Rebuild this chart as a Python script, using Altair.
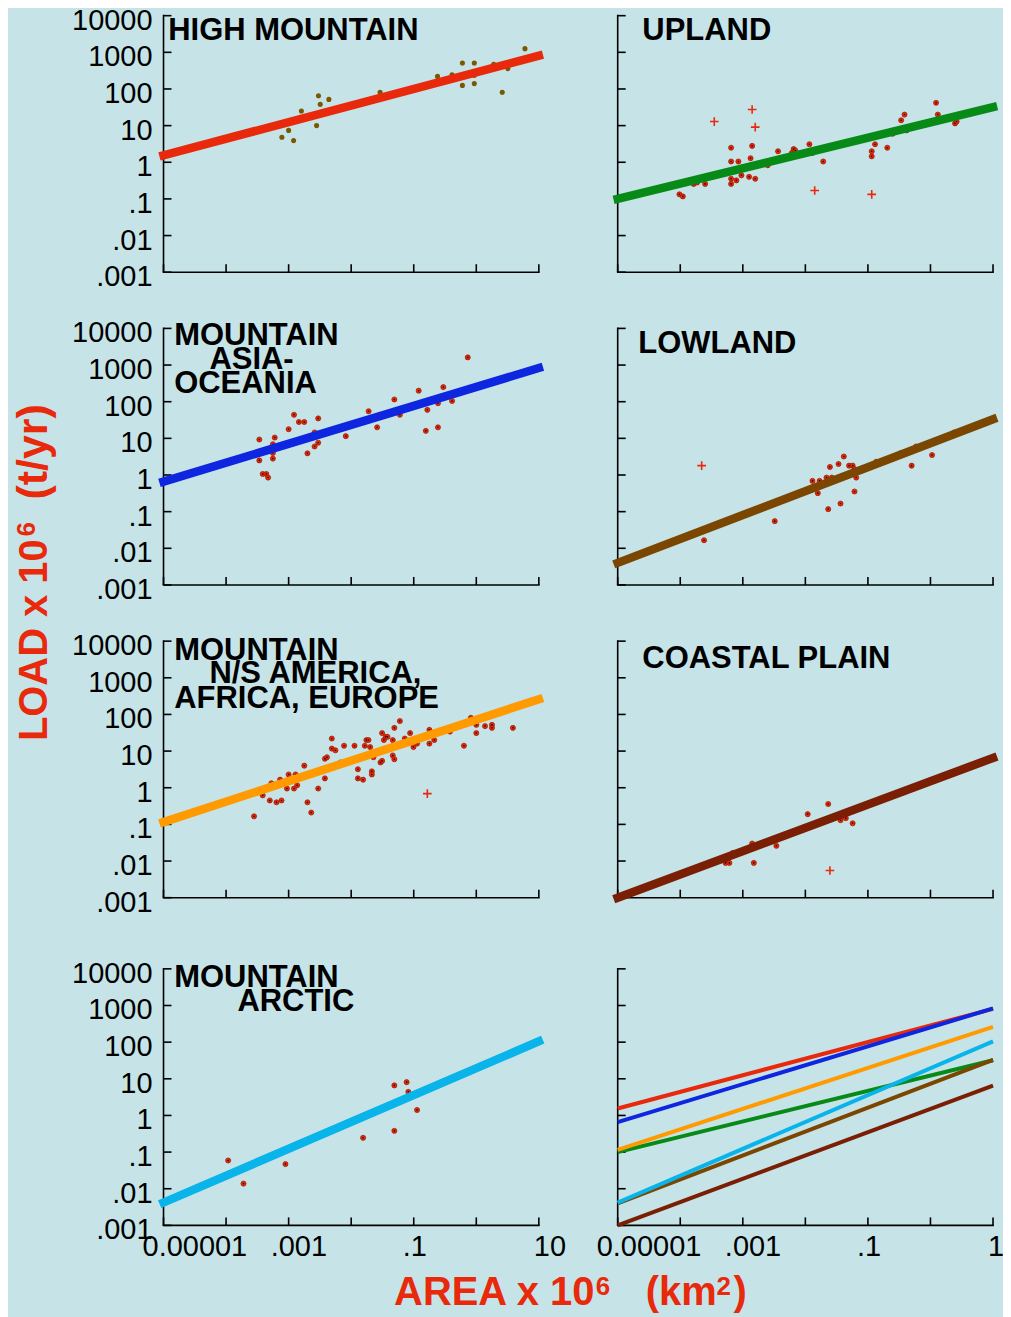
import altair as alt
import pandas as pd

BG = "#c6e4e8"
RED = "#e8290b"
INK = "#000000"
FONT = "Liberation Sans"

X_DOMAIN = [1e-5, 10]
Y_DOMAIN = [1e-3, 1e4]
X_TICKS = [1e-5, 1e-4, 1e-3, 1e-2, 1e-1, 1, 10]
Y_TICKS = [1e-3, 1e-2, 1e-1, 1, 10, 100, 1000, 10000]
Y_TICK_TEXT = [".001", ".01", ".1", "1", "10", "100", "1000", "10000"]
X_LABEL_VALUES = [1e-5, 1e-3, 1e-1, 10]
X_LABEL_TEXT = ["0.00001", ".001", ".1", "10"]
X_LABEL_DX = [-21, -18, -11, -5]   # left-edge offsets of the tick labels (layout)

# ---- fitted lines: load at area = 1e-5 and at area = 10 ----
FIT_NAMES = ["HIGH MOUNTAIN", "UPLAND", "ASIA-OCEANIA", "LOWLAND",
             "N/S AMERICA, AFRICA, EUROPE", "COASTAL PLAIN", "ARCTIC"]
FIT_LO = [1.55, 0.10, 0.66, 0.0040, 0.115, 0.0010, 0.0042]
FIT_HI = [810, 32, 830, 33, 260, 6.5, 105]
FIT_COLORS = ["#e8290b", "#078a16", "#0f26e0", "#7a4600", "#ff9a00", "#7a1f04", "#08b4ea"]

# ---- HIGH MOUNTAIN ----
HM_AREA = [0.00078, 0.0010, 0.0012, 0.0016, 0.0028, 0.0030, 0.0032, 0.0044, 0.029, 0.24,
           0.41, 0.60, 0.60, 0.93, 0.93, 0.93, 1.9, 2.6, 3.2, 6.0]
HM_LOAD = [4.8, 7.4, 3.9, 25, 10, 65, 38, 52, 81, 220,
           245, 510, 125, 510, 235, 140, 470, 81, 360, 1260]

# ---- UPLAND ----
UP_AREA = [0.000097, 0.00011, 0.000164, 0.000186, 0.00025, 0.00065, 0.00065, 0.00065, 0.00065,
           0.00079, 0.00085, 0.00095, 0.00126, 0.00133, 0.00141, 0.00158, 0.0025, 0.00366,
           0.0061, 0.0065, 0.0069, 0.0116, 0.013, 0.0193, 0.115, 0.115, 0.13, 0.204, 0.248,
           0.34, 0.385, 0.415, 1.23, 1.31, 2.47, 2.62]
UP_LOAD = [0.133, 0.117, 0.257, 0.28, 0.257, 2.5, 1.05, 0.355, 0.257,
           0.32, 1.05, 0.44, 0.40, 1.29, 2.8, 0.355, 0.83, 2.0,
           1.8, 2.3, 2.1, 3.1, 1.8, 1.05, 2.0, 1.45, 3.1, 2.5, 6.0,
           14, 20, 7.4, 42, 20, 11.5, 12.9]
UP_X_AREA = [0.00035, 0.00141, 0.00158, 0.0141, 0.115]
UP_X_LOAD = [12.9, 27.5, 9.1, 0.17, 0.133]

# ---- MOUNTAIN ASIA-OCEANIA ----
AO_AREA = [0.00034, 0.00034, 0.000385, 0.00044, 0.00047, 0.00056, 0.00056, 0.00056, 0.0006,
           0.0010, 0.00122, 0.00146, 0.00178, 0.0020, 0.0026, 0.0026, 0.00297, 0.00297,
           0.0082, 0.019, 0.026, 0.049, 0.06, 0.12, 0.156, 0.165, 0.244, 0.244, 0.297,
           0.41, 0.73]
AO_LOAD = [9.3, 2.5, 1.07, 1.07, 0.85, 6.9, 4.0, 2.8, 10.5,
           17.8, 44, 28, 28, 3.9, 14.5, 6.0, 35, 7.6,
           11.5, 55, 20, 115, 44, 200, 16, 60, 20, 91, 250,
           105, 1620]

# ---- LOWLAND ----
LO_AREA = [0.00024, 0.00324, 0.013, 0.0158, 0.0169, 0.0218, 0.0232, 0.0247, 0.0265, 0.0339,
           0.0365, 0.0412, 0.050, 0.057, 0.061, 0.061, 0.065, 0.136, 0.33, 0.50, 0.59, 1.06, 2.4]
LO_LOAD = [0.0166, 0.055, 0.69, 0.32, 0.69, 0.85, 0.117, 1.66, 0.85, 2.0,
           0.166, 3.2, 1.8, 1.8, 1.45, 0.355, 0.85, 2.3, 3.9, 1.8, 6.0, 3.5, 14.5]
LO_X_AREA = [0.00022]
LO_X_LOAD = [1.8]

# ---- MOUNTAIN N/S AMERICA, AFRICA, EUROPE ----
NS_AREA = [0.00028, 0.000385, 0.0005, 0.00053, 0.00064, 0.00073, 0.00077, 0.00094, 0.0010,
           0.00122, 0.00129, 0.00137, 0.00178, 0.0020, 0.0023, 0.00297, 0.0038, 0.0038,
           0.0041, 0.0049, 0.0049, 0.0056, 0.0068, 0.0077, 0.0113, 0.0128, 0.0128, 0.0155,
           0.0165, 0.0175, 0.0189, 0.0201, 0.0214, 0.0214, 0.0227, 0.0294, 0.0312, 0.0312,
           0.0333, 0.0358, 0.038, 0.0462, 0.0462, 0.049, 0.049, 0.060, 0.072, 0.0875, 0.099,
           0.113, 0.178, 0.178, 0.213, 0.38, 0.635, 0.82, 1.0, 1.0, 1.38, 1.78, 1.78, 3.85]
NS_LOAD = [0.166, 0.62, 0.45, 1.32, 0.40, 1.66, 0.45, 0.95, 2.3,
           0.95, 2.3, 1.17, 4.0, 0.40, 0.21, 0.95, 1.8, 6.2,
           6.8, 22, 11.7, 10.5, 4.9, 14, 14, 3.2, 1.8, 1.66,
           14, 20, 20, 12.9, 2.8, 2.3, 6.8, 4.9, 31, 5.4,
           20, 24.5, 24.5, 20, 7.6, 43, 6.0, 66, 22, 31, 12.9,
           16, 38, 16, 20, 34, 14, 81, 52, 31, 48, 52, 43, 43]
NS_X_AREA = [0.165]
NS_X_LOAD = [0.69]

# ---- COASTAL PLAIN ----
CP_AREA = [0.00053, 0.00061, 0.00069, 0.00141, 0.0015, 0.00344, 0.0109, 0.0232, 0.0365, 0.0443, 0.057]
CP_LOAD = [0.0089, 0.0089, 0.0166, 0.030, 0.0089, 0.026, 0.19, 0.36, 0.13, 0.148, 0.107]
CP_X_AREA = [0.0247]
CP_X_LOAD = [0.0055]

# ---- MOUNTAIN ARCTIC ----
AR_AREA = [0.000108, 0.00019, 0.00089, 0.0155, 0.049, 0.049, 0.077, 0.082, 0.113]
AR_LOAD = [0.059, 0.0138, 0.047, 0.245, 0.38, 6.6, 8.1, 4.4, 1.41]

W = 376
H = 257
ONE = pd.DataFrame({"k": [0]})
AX_W = 1.6


def txt(text, x, y, size, color=INK, weight="bold", align="left", angle=0):
    return alt.Chart(ONE).mark_text(text=text, align=align, baseline="alphabetic", font=FONT,
                                    fontWeight=weight, fontSize=size, color=color, angle=angle).encode(
        x=alt.value(x), y=alt.value(y))


def panel(dots=None, dot_color=RED, centers=True, crosses=None, fit_index=None,
          titles=(), x_labels=False, y_labels=False, top=0, extra=()):
    ht = H + top
    xs = alt.Scale(type="log", domain=X_DOMAIN, nice=False)
    ys = alt.Scale(type="log", domain=Y_DOMAIN, nice=False, range=[ht, top])
    X = lambda f: alt.X(f, scale=xs, axis=None)
    Y = lambda f: alt.Y(f, scale=ys, axis=None)
    layers = []
    # axis lines
    layers.append(alt.Chart(ONE).mark_rule(color=INK, strokeWidth=AX_W).encode(
        x=alt.value(0), y=alt.value(top - 0.8), y2=alt.value(ht)))
    layers.append(alt.Chart(ONE).mark_rule(color=INK, strokeWidth=AX_W).encode(
        x=alt.value(-0.8), x2=alt.value(W + 0.8), y=alt.value(ht)))
    # inward ticks
    layers.append(alt.Chart(pd.DataFrame({"v": Y_TICKS})).mark_rule(color=INK, strokeWidth=AX_W).encode(
        y=Y("v:Q"), x=alt.value(0), x2=alt.value(8)))
    layers.append(alt.Chart(pd.DataFrame({"v": X_TICKS})).mark_rule(color=INK, strokeWidth=AX_W).encode(
        x=X("v:Q"), y=alt.value(ht), y2=alt.value(ht - 8)))
    if y_labels:
        layers.append(alt.Chart(pd.DataFrame({"v": Y_TICKS, "t": Y_TICK_TEXT})).mark_text(
            align="right", baseline="middle", font=FONT, fontSize=29, color=INK, dx=-11, dy=5).encode(
            y=Y("v:Q"), x=alt.value(0), text="t:N"))
    if x_labels:
        for v, t, dx in zip(X_LABEL_VALUES, X_LABEL_TEXT, X_LABEL_DX):
            layers.append(alt.Chart(pd.DataFrame({"v": [v], "t": [t]})).mark_text(
                align="left", baseline="middle", font=FONT, fontSize=29, color=INK, dx=dx).encode(
                x=X("v:Q"), y=alt.value(ht + 21.5), text="t:N"))
    if dots is not None:
        df = pd.DataFrame({"area": dots[0], "load": dots[1]})
        if centers:
            layers.append(alt.Chart(df).mark_circle(size=26, color=dot_color, opacity=1,
                                                    stroke="#9a1800", strokeWidth=0.7).encode(
                x=X("area:Q"), y=Y("load:Q")))
            layers.append(alt.Chart(df).mark_circle(size=2.5, color=INK, opacity=1).encode(
                x=X("area:Q"), y=Y("load:Q")))
        else:
            layers.append(alt.Chart(df).mark_circle(size=26, color=dot_color, opacity=1).encode(
                x=X("area:Q"), y=Y("load:Q")))
    if crosses is not None:
        dfc = pd.DataFrame({"area": crosses[0], "load": crosses[1]})
        layers.append(alt.Chart(dfc).mark_point(shape="M-1,0L1,0M0,-1L0,1", size=75, filled=False,
                                                stroke=RED, strokeWidth=1.6, opacity=1).encode(
            x=X("area:Q"), y=Y("load:Q")))
    if fit_index is not None:
        i = fit_index
        dfl = pd.DataFrame({"area": X_DOMAIN, "load": [FIT_LO[i], FIT_HI[i]]})
        layers.append(alt.Chart(dfl).mark_line(strokeWidth=8.5, color=FIT_COLORS[i], strokeCap="square").encode(
            x=X("area:Q"), y=Y("load:Q")))
    for i in extra:
        dfl = pd.DataFrame({"area": X_DOMAIN, "load": [FIT_LO[i], FIT_HI[i]]})
        layers.append(alt.Chart(dfl).mark_line(strokeWidth=4, color=FIT_COLORS[i], strokeCap="butt").encode(
            x=X("area:Q"), y=Y("load:Q")))
    for (t, px, py) in titles:
        layers.append(txt(t, px, py, 31))
    return layers, ht


def build(layers, ht):
    return alt.layer(*layers).properties(width=W, height=ht)


# panel 1
l1, h1 = panel(dots=(HM_AREA, HM_LOAD), dot_color="#7a5800", centers=False, fit_index=0,
               titles=[("HIGH MOUNTAIN", 4.7, 24)], y_labels=True)
# panel 2
l2, h2 = panel(dots=(UP_AREA, UP_LOAD), crosses=(UP_X_AREA, UP_X_LOAD), fit_index=1,
               titles=[("UPLAND", 24.7, 24)])
# panel 3 (+ the shared y title)
l3, h3 = panel(dots=(AO_AREA, AO_LOAD), fit_index=2,
               titles=[("MOUNTAIN", 10.7, 16.7), ("ASIA-", 46, 40.7), ("OCEANIA", 10.7, 64.7)],
               y_labels=True)
l3 += [txt("LOAD x 10", -117, 413.4, 40, RED, angle=270),
       txt("6", -128.4, 208.4, 26, RED, angle=270),
       txt("(t/yr)", -117, 171.5, 43, RED, angle=270)]
# panel 4
l4, h4 = panel(dots=(LO_AREA, LO_LOAD), crosses=(LO_X_AREA, LO_X_LOAD), fit_index=3,
               titles=[("LOWLAND", 20.7, 25)])
# panel 5
l5, h5 = panel(dots=(NS_AREA, NS_LOAD), crosses=(NS_X_AREA, NS_X_LOAD), fit_index=4,
               titles=[("MOUNTAIN", 10.7, 19), ("N/S AMERICA,", 46, 42.3), ("AFRICA, EUROPE", 10.7, 66.5)],
               y_labels=True)
# panel 6
l6, h6 = panel(dots=(CP_AREA, CP_LOAD), crosses=(CP_X_AREA, CP_X_LOAD), fit_index=5,
               titles=[("COASTAL PLAIN", 24.7, 27.4)])
# panel 7 (+ the shared x title)
T4 = 15
l7, h7 = panel(dots=(AR_AREA, AR_LOAD), fit_index=6,
               titles=[("MOUNTAIN", 10.7, 32.8), ("ARCTIC", 74, 56.8)],
               y_labels=True, x_labels=True, top=T4)
l7 += [txt("AREA x 10", 231, 351.8, 40, RED),
       txt("6", 433, 342, 26, RED),
       txt("(km", 483, 351.8, 40, RED),
       txt("2", 554, 342, 26, RED),
       txt(")", 571, 351.8, 40, RED)]
# panel 8 (all fitted lines)
l8, h8 = panel(x_labels=True, top=T4, extra=[0, 1, 3, 4, 5, 2, 6])

panels = [build(l1, h1), build(l2, h2), build(l3, h3), build(l4, h4),
          build(l5, h5), build(l6, h6), build(l7, h7), build(l8, h8)]

chart = alt.concat(*panels, columns=2, spacing={"row": 56.3, "column": 79}, bounds="flush").properties(
    padding={"left": 4.8, "top": -2.5, "right": -18, "bottom": 4}
).configure(background=BG).configure_view(stroke=None)

chart.save("out.html", embed_options={"renderer": "svg", "actions": False})
